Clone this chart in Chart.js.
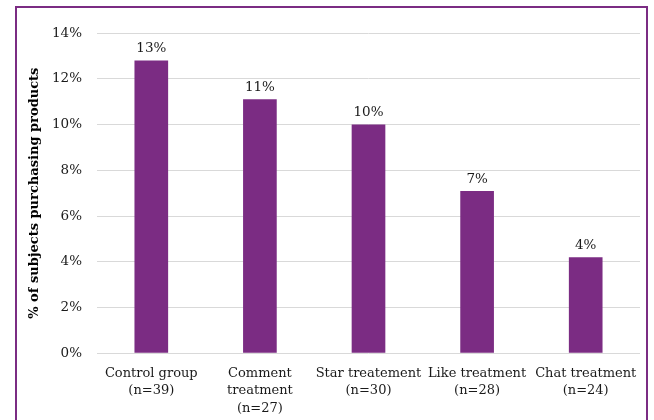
<!DOCTYPE html>
<html>
<head>
<meta charset="utf-8">
<script src="https://cdn.jsdelivr.net/npm/chart.js@4"></script>
<style>
html,body{margin:0;padding:0;background:#fff;}
#wrap{position:relative;width:654px;height:420px;overflow:hidden;}
#frame{position:absolute;left:15px;top:6px;width:633px;height:430px;border:2px solid #7B2C83;box-sizing:border-box;pointer-events:none;}
canvas{position:absolute;left:0;top:0;}
</style>
</head>
<body>
<div id="wrap">
<canvas id="c" width="654" height="420"></canvas>
<div id="frame"></div>
</div>
<script>
const categories = [
  ["Control group", "(n=39)"],
  ["Comment", "treatment", "(n=27)"],
  ["Star treatement", "(n=30)"],
  ["Like treatment", "(n=28)"],
  ["Chat treatment", "(n=24)"]
];
const values = [12.8, 11.1, 10.0, 7.1, 4.2];
const valueLabels = ["13%", "11%", "10%", "7%", "4%"];
const yTicks = [0, 2, 4, 6, 8, 10, 12, 14];
const yTitle = "% of subjects purchasing products";

const FONT = "'DejaVu Serif', 'Liberation Serif', serif";

const labelPlugin = {
  id: 'barLabels',
  afterDatasetsDraw(chart) {
    const ctx = chart.ctx;
    const meta = chart.getDatasetMeta(0);
    ctx.save();
    ctx.font = "13.5px " + FONT;
    ctx.fillStyle = "#1a1a1a";
    ctx.textAlign = "center";
    ctx.textBaseline = "bottom";
    meta.data.forEach((bar, i) => {
      ctx.fillText(valueLabels[i], bar.x, bar.y - 5);
    });
    ctx.restore();
  }
};

new Chart(document.getElementById('c'), {
  type: 'bar',
  data: {
    labels: categories,
    datasets: [{
      data: values,
      backgroundColor: '#7B2C83',
      categoryPercentage: 1.0,
      barPercentage: 0.31
    }]
  },
  options: {
    responsive: false,
    animation: false,
    devicePixelRatio: 1,
    layout: { padding: { left: 27, right: 14, top: 33, bottom: -8 } },
    plugins: { legend: { display: false }, tooltip: { enabled: false } },
    scales: {
      x: {
        grid: { display: false, drawTicks: false },
        border: { display: false },
        ticks: {
          color: '#1a1a1a',
          font: { family: FONT, size: 13, lineHeight: 1.35 },
          padding: 11,
          maxRotation: 0,
          autoSkip: false
        }
      },
      y: {
        min: 0, max: 14,
        afterBuildTicks(scale) { scale.ticks = yTicks.map(v => ({ value: v })); },
        afterFit(scale) { scale.width = 70; },
        grid: { color: '#d9d9d9', lineWidth: 1, drawTicks: false },
        border: { display: false },
        ticks: {
          color: '#1a1a1a',
          font: { family: FONT, size: 13.5 },
          padding: 15,
          callback: v => v + '%'
        },
        title: {
          display: true,
          text: yTitle,
          color: '#000',
          font: { family: FONT, size: 13, weight: 'bold' },
          padding: { top: 0, bottom: 4 }
        }
      }
    }
  },
  plugins: [labelPlugin]
});
</script>
</body>
</html>
